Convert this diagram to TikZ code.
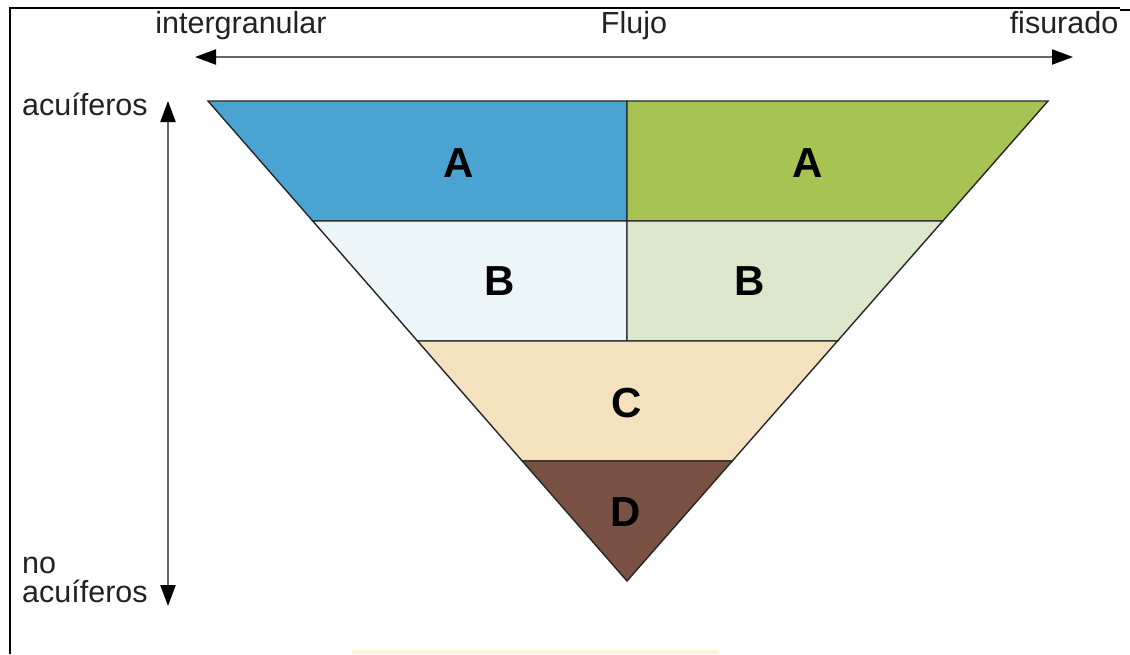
\documentclass[tikz,border=0pt]{standalone}
\usepackage{fontspec}
\setmainfont{Liberation Sans}
\usetikzlibrary{arrows.meta}
\definecolor{blueA}{HTML}{4BA3D1}
\definecolor{greenA}{HTML}{A7C353}
\definecolor{blueB}{HTML}{ECF5F7}
\definecolor{greenB}{HTML}{DCE7CB}
\definecolor{tanC}{HTML}{F4E1BE}
\definecolor{brownD}{HTML}{7A5243}
\definecolor{peach}{HTML}{FFF2DC}
\definecolor{txt}{HTML}{222222}
\tikzset{
  axislabel/.style={font=\fontsize{30.5}{29}\selectfont, text=txt, inner sep=0pt},
  zonelabel/.style={font=\fontsize{42}{46}\selectfont\bfseries, text=black, inner sep=0pt},
  zone/.style={draw=black!85, line width=1.4pt, line join=miter},
  axisarrow/.style={draw=black!60, line width=2.2pt,
    {Triangle[length=21pt,width=15pt,color=black]}-{Triangle[length=21pt,width=15pt,color=black]}},
  frameline/.style={draw=black, line width=2pt}
}
\begin{document}
\begin{tikzpicture}[x=1pt,y=-1pt]
\useasboundingbox (0,0) rectangle (1130,654);
\fill[white] (0,0) rectangle (1130,654);

% frame
\draw[frameline] (10,654) -- (10,8) -- (1120,8);
\draw[frameline] (1120,9.5) -- (1130,9.5);
\fill[peach] (352,650) rectangle (719,654);

% key points of the inverted triangle
\coordinate (tl) at (208,101);
\coordinate (tm) at (627,101);
\coordinate (tr) at (1048,101);
\coordinate (l1) at (312.75,221);
\coordinate (m1) at (627,221);
\coordinate (r1) at (942.75,221);
\coordinate (l2) at (417.5,341);
\coordinate (m2) at (627,341);
\coordinate (r2) at (837.5,341);
\coordinate (l3) at (522.25,461);
\coordinate (r3) at (732.25,461);
\coordinate (ap) at (627,581);

% zones
\path[zone, fill=blueA]  (tl) -- (tm) -- (m1) -- (l1) -- cycle;
\path[zone, fill=greenA] (tm) -- (tr) -- (r1) -- (m1) -- cycle;
\path[zone, fill=blueB]  (l1) -- (m1) -- (m2) -- (l2) -- cycle;
\path[zone, fill=greenB] (m1) -- (r1) -- (r2) -- (m2) -- cycle;
\path[zone, fill=tanC]   (l2) -- (r2) -- (r3) -- (l3) -- cycle;
\path[zone, fill=brownD] (l3) -- (r3) -- (ap) -- cycle;

% zone letters
\node[zonelabel] (a1) at (459,163) {A};
\node[zonelabel] (a2) at (808,163) {A};
\node[zonelabel] (b1) at (500,281) {B};
\node[zonelabel] (b2) at (750,281) {B};
\node[zonelabel] (c)  at (627,403) {C};
\node[zonelabel] (d)  at (626,512) {D};

% flow axis
\node[axislabel, anchor=base] (inter) at (241,33) {intergranular};
\node[axislabel, anchor=base] (flujo) at (634,33) {Flujo};
\node[axislabel, anchor=base] (fis)   at (1064,33) {fisurado};
\coordinate (hl) at (195,57);
\coordinate (hr) at (1073,57);
\draw[axisarrow] (hl) -- (hr);

% aquifer axis
\node[axislabel, anchor=base west] (acu) at (22,115) {acuíferos};
\node[axislabel, anchor=base west] (no) at (22,573) {no};
\node[axislabel, anchor=base west] (noacu) at (22,602) {acuíferos};
\coordinate (vt) at (168,101);
\coordinate (vb) at (168,606);
\draw[axisarrow] (vt) -- (vb);
\end{tikzpicture}
\end{document}
